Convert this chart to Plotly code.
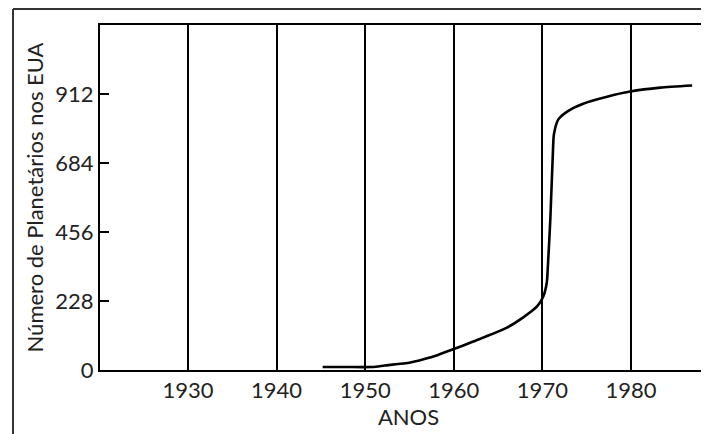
import plotly.graph_objects as go

# Data
years = [1945.2, 1947.7, 1950.8, 1952.2, 1955.1, 1957.3, 1958.4, 1959.7, 1962.2,
         1966.0, 1967.8, 1969.4, 1970.1, 1970.5, 1970.6, 1970.9, 1971.2, 1971.3,
         1971.8, 1972.8, 1974.6, 1977.3, 1979.9, 1983.3, 1986.9]
planetarios = [10, 10, 10, 15, 25, 41, 52, 66, 94,
               140, 173, 210, 243, 289, 332, 500, 729, 778,
               828, 854, 880, 903, 920, 933, 940]

x_ticks = [1930, 1940, 1950, 1960, 1970, 1980]
y_ticks = [0, 228, 456, 684, 912]

W, H = 709, 434
ML, MR, MT, MB = 92, 0, 17, 72
pw = W - ML - MR
ph = H - MT - MB
PX_PER_YEAR = 8.86
X0 = 1920.07

FONT = "Lato"
TXT = "#222222"
FS = 22

fig = go.Figure()
fig.add_trace(go.Scatter(
    x=years, y=planetarios, mode="lines",
    line=dict(color="black", width=2.6, shape="spline", smoothing=0.6),
    hoverinfo="skip", showlegend=False,
))

# outer frame (top and left edges, as in the reference)
fx = (5 - ML) / pw
fy = (H - MB - 1) / ph
fig.add_shape(type="line", xref="paper", yref="paper", x0=fx, y0=fy, x1=1.2, y1=fy,
              line=dict(color="#333333", width=2))
fig.add_shape(type="line", xref="paper", yref="paper", x0=fx, y0=fy, x1=fx, y1=-0.5,
              line=dict(color="#333333", width=2))

fig.update_layout(
    width=W, height=H,
    margin=dict(l=ML, r=MR, t=MT, b=MB),
    paper_bgcolor="white", plot_bgcolor="white",
    font=dict(family=FONT, size=FS, color=TXT),
    xaxis=dict(
        range=[X0, X0 + pw / PX_PER_YEAR],
        tickvals=x_ticks, ticktext=[str(v) for v in x_ticks],
        showgrid=True, gridcolor="black", gridwidth=2,
        showline=True, linecolor="black", linewidth=2, mirror=True,
        ticks="", zeroline=False, automargin=False,
        tickfont=dict(family=FONT, size=FS, color=TXT),
        title=dict(text="ANOS", font=dict(family=FONT, size=FS, color=TXT), standoff=2),
    ),
    yaxis=dict(
        range=[0, 1140],
        tickvals=y_ticks, ticktext=[str(v) for v in y_ticks],
        showgrid=False, zeroline=False, automargin=False,
        showline=True, linecolor="black", linewidth=2, mirror=False,
        ticks="inside", ticklen=9, tickwidth=2, tickcolor="black",
        tickfont=dict(family=FONT, size=FS, color=TXT),
        title=dict(text="Número de Planetários nos EUA",
                   font=dict(family=FONT, size=FS, color=TXT), standoff=6),
    ),
)

fig.write_html("out.html")
